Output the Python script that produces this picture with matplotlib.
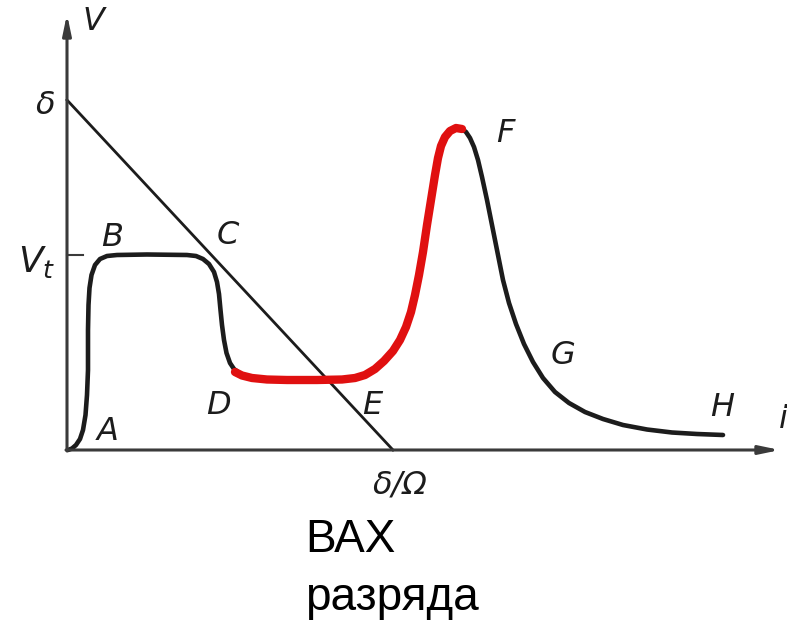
import matplotlib
matplotlib.use("Agg")
import matplotlib.pyplot as plt

# current-voltage characteristic of a gas discharge (arbitrary units)
# rising part A-B-C-D (black)
i_dark = [0.1, 0.5, 0.9, 1.3, 1.6, 1.85, 2.0, 2.1, 2.1, 2.15, 2.25, 2.45,
          2.8, 3.3, 4.0, 5.0, 8.0, 12.0, 12.9, 13.6, 14.2, 14.7, 15.0, 15.2,
          15.35, 15.5, 15.7, 15.95, 16.3, 16.7, 17.1]
v_dark = [0.0, 0.15, 0.5, 1.1, 2.0, 3.5, 5.5, 8.0, 12.0, 14.5, 16.2, 17.5,
          18.5, 19.1, 19.4, 19.5, 19.55, 19.5, 19.4, 19.1, 18.6, 17.8, 16.8,
          15.6, 14.0, 12.5, 11.0, 9.7, 8.7, 8.1, 7.8]

# glow region D-E-F (red)
i_glow = [16.8, 17.5, 18.5, 20.0, 22.0, 25.0, 27.5, 28.8, 29.8, 30.8, 31.7,
          32.6, 33.3, 33.9, 34.4, 34.8, 35.2, 35.6, 36.0, 36.4, 36.8, 37.1,
          37.4, 37.8, 38.3, 38.9, 39.5]
v_glow = [7.8, 7.45, 7.2, 7.05, 7.0, 7.0, 7.05, 7.2, 7.5, 8.1, 8.9,
          9.9, 11.0, 12.3, 13.8, 15.5, 17.5, 19.8, 22.5, 25.0, 27.5, 29.2,
          30.4, 31.3, 31.9, 32.2, 32.1]

# arc region F-G-H (black)
i_arc = [39.5, 39.9, 40.3, 40.7, 41.1, 41.5, 42.0, 42.5, 43.0, 43.6, 44.2,
         44.9, 45.7, 46.6, 47.6, 48.8, 50.2, 51.8, 53.6, 55.6, 58.0, 60.5,
         63.0, 65.6]
v_arc = [32.1, 31.8, 31.2, 30.3, 29.0, 27.3, 25.0, 22.5, 20.0, 17.0, 14.7,
         12.6, 10.6, 8.8, 7.2, 5.8, 4.7, 3.8, 3.1, 2.5, 2.05, 1.75,
         1.6, 1.5]

# load line from E_src on the V axis to E_src/R on the i axis
emf = 35.0
i_short = 32.6
v_t = 19.5

point_labels = ["A", "B", "C", "D", "E", "F", "G", "H"]
point_i = [4.1, 4.5, 16.1, 15.1, 30.5, 43.8, 49.6, 65.5]
point_v = [1.8, 21.2, 21.5, 4.5, 4.5, 31.7, 9.5, 4.2]

caption = ["ВАХ", "разряда"]

ink = "#1c1c1c"
axis_ink = "#3a3a3a"
red = "#e01010"

fig = plt.figure(figsize=(7.87, 6.21), dpi=100)
ax = fig.add_axes([0, 0, 1, 1])
ax.set_xlim(-6.7, 72.0)
ax.set_ylim(-17.1, 45.0)
ax.axis("off")

# axes with arrow heads
arrow = dict(arrowstyle="-|>,head_length=1.2,head_width=0.25", lw=2.2,
             color=axis_ink, shrinkA=0, shrinkB=0)
ax.annotate("", xy=(0, 43.6), xytext=(0, -0.1), arrowprops=arrow)
ax.annotate("", xy=(71.3, 0), xytext=(-0.1, 0), arrowprops=arrow)

# V_t tick and load line
ax.plot([0, 1.6], [v_t, v_t], color=axis_ink, lw=1.5)
ax.plot([0, i_short], [emf, 0], color=ink, lw=2.0)

curve = dict(solid_joinstyle="round", solid_capstyle="round")
ax.plot(i_dark, v_dark, color=ink, lw=3.3, **curve)
ax.plot(i_arc, v_arc, color=ink, lw=3.3, **curve)
ax.plot(i_glow, v_glow, color=red, lw=6.0, zorder=3, **curve)

lab = dict(fontsize=23, style="italic", color=ink, ha="center", va="center",
           family="DejaVu Sans")
for name, xi, yv in zip(point_labels, point_i, point_v):
    ax.text(xi, yv, name, **lab)

ax.text(2.6, 42.8, "V", **lab)
ax.text(71.6, 3.0, "i", **lab)
ax.text(-2.2, 34.5, "δ", **lab)
ax.text(33.3, -3.5, "δ/Ω", **lab)
ax.text(-3.0, 18.8, r"$V_t$", fontsize=26, color=ink, ha="center", va="center")

ax.text(23.8, -9.0, caption[0], fontsize=33, family="Liberation Sans",
        color="black", ha="left", va="center")
ax.text(23.8, -14.8, caption[1], fontsize=33, family="Liberation Sans",
        color="black", ha="left", va="center")

fig.savefig("out.png", dpi=100)
